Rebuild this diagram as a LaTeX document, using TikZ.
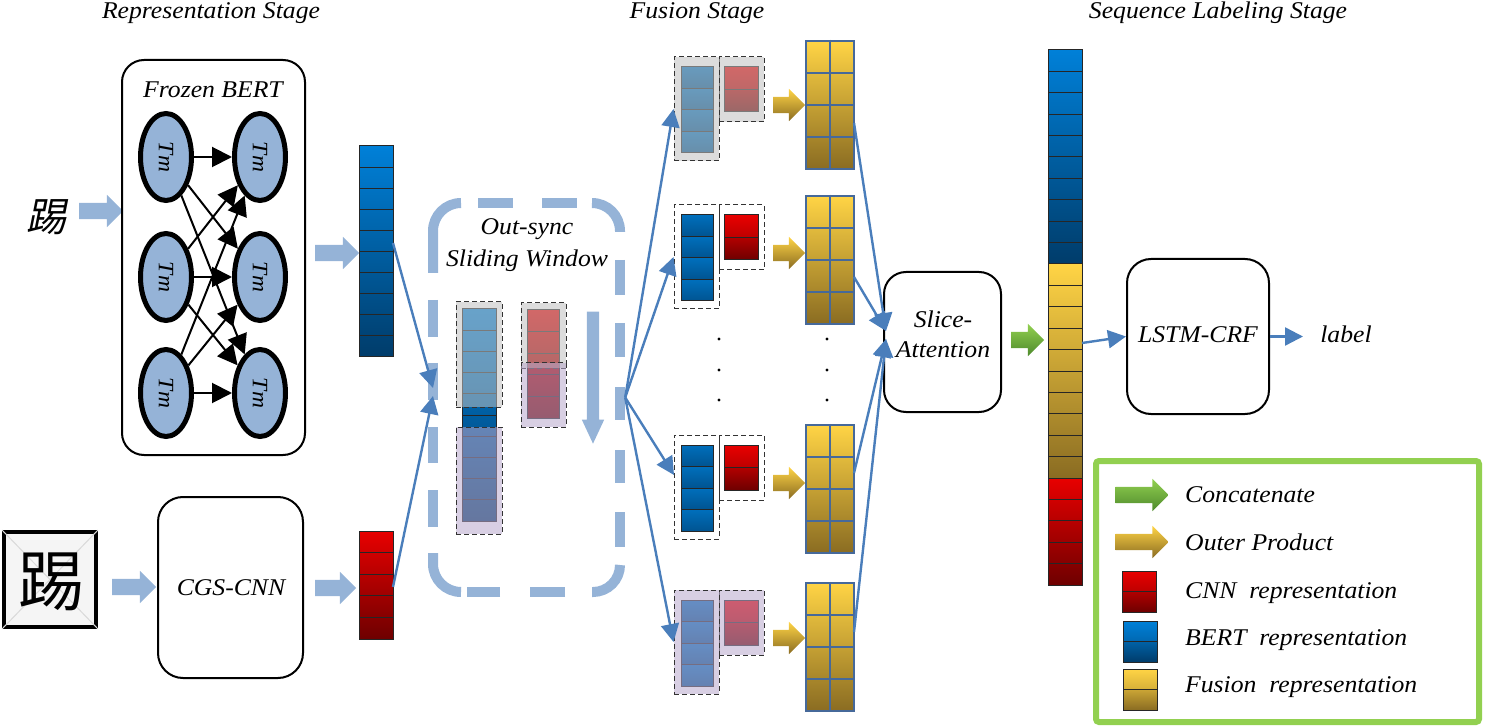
\documentclass[tikz,border=0pt]{standalone}
\usepackage{fontspec}
\usepackage{graphicx}
\setmainfont{Liberation Serif}[FakeStretch=1.07]
\newfontfamily\cjkslant{Noto Sans CJK SC}[FakeSlant=0.2]
\newfontfamily\cjkplain{Noto Sans CJK SC}
\usetikzlibrary{shapes.geometric,shapes.arrows,arrows.meta}
\definecolor{lb}{HTML}{95B3D7}
\definecolor{cb}{HTML}{4A7EBB}
\definecolor{bertA}{HTML}{0080D8}
\definecolor{bertB}{HTML}{003C6A}
\definecolor{redA}{HTML}{E80000}
\definecolor{redB}{HTML}{6E0000}
\definecolor{goldA}{HTML}{FFD445}
\definecolor{goldB}{HTML}{8A6C22}
\definecolor{grnA}{HTML}{92D050}
\definecolor{grnB}{HTML}{4E8A2C}
\definecolor{mgrid}{HTML}{46699A}
\definecolor{grayov}{HTML}{BFBFBF}
\definecolor{lavov}{HTML}{B8A8CC}
\definecolor{legcol}{HTML}{92D050}
\tikzset{
  sarr/.style={single arrow, draw=none, minimum height=#1, single arrow head extend=8pt, inner xsep=0pt, inner ysep=8pt, outer sep=0pt},
  lbarrow/.style={sarr=#1, fill=lb},
  gdarrow/.style={sarr=#1, top color=goldA, bottom color=goldB},
  grarrow/.style={sarr=#1, top color=grnA, bottom color=grnB},
  conn/.style={draw=cb, line width=2.4pt, -{Triangle[length=18pt,width=18pt]}},
  bconn/.style={draw=black, line width=2pt, -{Triangle[length=20pt,width=20pt]}},
  tm/.style={ellipse, draw=black, line width=5pt, fill=lb, minimum width=51pt, minimum height=87pt, inner sep=0pt},
  rbox/.style={draw=black, line width=2pt, rounded corners=#1, inner sep=0pt},
  cell/.style={draw=black!85, line width=1pt},
  dbox/.style={draw=black!80, line width=1pt, dash pattern=on 5pt off 3pt, inner sep=0pt},
  winline/.style={draw=lb, line width=10pt, line cap=butt},
  mat/.style={draw=mgrid, line width=2.5pt, top color=goldA, bottom color=goldB, minimum width=48pt, minimum height=128pt, inner sep=0pt},
  txt/.style={inner sep=0pt, anchor=base},
}
\begin{document}
\begin{tikzpicture}[x=1pt,y=-1pt,font=\fontsize{24}{30}\selectfont\itshape]
\useasboundingbox (0,0) rectangle (1489,727);

% stage titles
\node[txt] (t1) at (211,19) {Representation Stage};
\node[txt] (t2) at (697,19) {Fusion Stage};
\node[txt] (t3) at (1218,19) {Sequence Labeling Stage};

% input character and image
\node[inner sep=0pt] (ch) at (47,217) {\cjkslant\fontsize{40}{40}\selectfont 踢};
\node[lbarrow=44pt] (a1) at (97,211) {};
\node[draw=black, line width=4pt, fill=black!4, minimum width=92pt, minimum height=95pt, inner sep=0pt] (img) at (50,579.5) {};
\draw[black!15, line width=1pt] (img.north west) -- (img.south east) (img.north east) -- (img.south west);
\node[inner sep=0pt] (ch2) at (51,582) {\cjkplain\fontsize{66}{66}\selectfont 踢};
\node[lbarrow=44pt] (a3) at (130,587) {};

% Frozen BERT
\node[rbox=22pt, minimum width=183pt, minimum height=395pt] (bert) at (213.5,257.5) {};
\node[txt] (bertt) at (213,98) {Frozen BERT};
\foreach \r/\y in {1/157,2/277,3/393}{
  \node[tm] (L\r) at (166,\y) {\rotatebox{-90}{\fontsize{22}{22}\selectfont Tm}};
  \node[tm] (R\r) at (260,\y) {\rotatebox{-90}{\fontsize{22}{22}\selectfont Tm}};
}
\foreach \i in {1,2,3}{\foreach \j in {1,2,3}{\draw[bconn] (L\i) -- (R\j);}}
\node[lbarrow=44pt] (a2) at (333,253) {};

% CGS-CNN
\node[rbox=25pt, minimum width=145pt, minimum height=181pt] (cgs) at (230.5,587.5) {};
\node[txt] (cgst) at (231,595) {CGS-CNN};
\node[lbarrow=41pt] (a4) at (331.5,588) {};

% BERT bar
\foreach \k in {0,...,9}{
  \pgfmathtruncatemacro\pa{100-\k*10}
  \pgfmathtruncatemacro\pb{100-(\k+1)*10}
  \draw[cell, top color=bertA!\pa!bertB, bottom color=bertA!\pb!bertB] (359,{146+\k*21.1}) rectangle ++(34,21.1);
}
% red bar
\foreach \k in {0,...,4}{
  \pgfmathtruncatemacro\pa{100-\k*20}
  \pgfmathtruncatemacro\pb{100-(\k+1)*20}
  \draw[cell, top color=redA!\pa!redB, bottom color=redA!\pb!redB] (359,{531+\k*21.6}) rectangle ++(34,21.6);
}
\coordinate (bout) at (393,243);
\coordinate (rout) at (393,587);

% sliding window
\node[minimum width=197pt, minimum height=399pt, inner sep=0pt] (win) at (526.5,397.5) {};
\draw[winline, rounded corners=28pt] (433,273) -- (433,203) -- (461,203);
\draw[winline] (478,203) -- (513,203) (542,203) -- (577,203);
\draw[winline, rounded corners=28pt] (592,203) -- (620,203) -- (620,232);
\draw[winline] (620,260) -- (620,295) (620,323) -- (620,357) (620,387) -- (620,420) (620,450) -- (620,483) (620,512) -- (620,547);
\draw[winline, rounded corners=27pt] (620,565) -- (620,592) -- (592,592);
\draw[winline] (565,592) -- (530,592) (500,592) -- (467,592);
\draw[winline, rounded corners=28pt] (461,592) -- (433,592) -- (433,553);
\draw[winline] (433,300) -- (433,337) (433,363) -- (433,400) (433,427) -- (433,463) (433,490) -- (433,527);
\node[txt] (wt1) at (527,235) {Out-sync};
\node[txt] (wt2) at (527,267) {Sliding Window};
\foreach \k in {0,...,9}{
  \pgfmathtruncatemacro\pa{100-\k*10}
  \pgfmathtruncatemacro\pb{100-(\k+1)*10}
  \draw[cell, top color=bertA!\pa!bertB, bottom color=bertA!\pb!bertB] (462,{309+\k*21.2}) rectangle ++(34,21.2);
}
\foreach \k in {0,...,4}{
  \pgfmathtruncatemacro\pa{100-\k*20}
  \pgfmathtruncatemacro\pb{100-(\k+1)*20}
  \draw[cell, top color=redA!\pa!redB, bottom color=redA!\pb!redB] (527,{310+\k*21.6}) rectangle ++(32,21.6);
}
\node[dbox, fill=grayov, fill opacity=0.55, minimum width=46pt, minimum height=105pt] (sw1) at (479,354.5) {};
\node[dbox, fill=lavov, fill opacity=0.55, minimum width=46pt, minimum height=107pt] (sw2) at (479,480.5) {};
\node[dbox, fill=grayov, fill opacity=0.55, minimum width=45pt, minimum height=65pt] (sw3) at (543.5,335.5) {};
\node[dbox, fill=lavov, fill opacity=0.55, minimum width=45pt, minimum height=64pt] (sw4) at (543.5,395) {};
\node[single arrow, fill=lb, draw=none, shape border rotate=270, minimum height=132pt, single arrow head extend=5pt, single arrow tip angle=50, inner sep=6pt] (down) at (593,371) {};

\coordinate (win1) at (433,388);
\coordinate (win2) at (433,396);
\draw[conn] (bout) -- (win1);
\draw[conn] (rout) -- (win2);

% fusion groups
\foreach \g/\T/\MT/\ov/\op in {1/57/41/grayov/0.55, 2/205/196/white/0, 3/435/425/white/0, 4/590/583/lavov/0.55}{
  \foreach \k in {0,...,3}{
    \draw[cell, top color=bertA!75!bertB, bottom color=bertA!35!bertB] (681,{\T+10+\k*21.5}) rectangle ++(32,21.5);
  }
  \draw[cell, top color=redA, bottom color=redA!65!redB] (724,{\T+10}) rectangle ++(34,22.5);
  \draw[cell, top color=redA!55!redB, bottom color=redB] (724,{\T+32.5}) rectangle ++(34,22.5);
  \node[dbox, fill=\ov, fill opacity=\op, minimum width=45pt, minimum height=104pt] (b\g) at (696.5,{\T+52}) {};
  \node[dbox, fill=\ov, fill opacity=\op, minimum width=45pt, minimum height=65pt] (r\g) at (741.5,{\T+32.5}) {};
  \node[gdarrow=32pt] (ga\g) at (785,{\T+48}) {};
  \node[mat] (m\g) at (830,{\MT+64}) {};
  \draw[draw=mgrid, line width=2.5pt] (m\g.north) -- (m\g.south);
  \foreach \r in {1,2,3}{\draw[draw=mgrid, line width=2.5pt] (806,{\MT+\r*32}) -- (854,{\MT+\r*32});}
}
\foreach \y in {339,370,400}{\fill (719,\y) circle (1.6pt); \fill (827,\y) circle (1.6pt);}

\coordinate (f3) at (674,475);
\draw[conn] (win.east) -- (b1.west);
\draw[conn] (win.east) -- (b2.west);
\draw[conn] (win.east) -- (f3);
\draw[conn] (win.east) -- (b4.west);

% slice attention
\node[rbox=22pt, minimum width=117pt, minimum height=140pt] (slice) at (942.5,342) {};
\node[txt] (st1) at (943,327) {Slice-};
\node[txt] (st2) at (943,357) {Attention};
\coordinate (mo1) at (854,123);
\coordinate (mo2) at (854,277);
\coordinate (mo3) at (854,473);
\coordinate (mo4) at (854,632);
\coordinate (si1) at (886,331);
\coordinate (si2) at (886,339);
\draw[conn] (mo1) -- (si1);
\draw[conn] (mo2) -- (si1);
\draw[conn] (mo3) -- (si2);
\draw[conn] (mo4) -- (si2);
\node[grarrow=33pt] (gr) at (1023.5,340) {};

% tall bar
\foreach \k in {0,...,9}{
  \pgfmathtruncatemacro\pa{100-\k*10}
  \pgfmathtruncatemacro\pb{100-(\k+1)*10}
  \draw[cell, top color=bertA!\pa!bertB, bottom color=bertA!\pb!bertB] (1048,{50+\k*21.4}) rectangle ++(34,21.4);
}
\foreach \k in {0,...,9}{
  \pgfmathtruncatemacro\pa{100-\k*10}
  \pgfmathtruncatemacro\pb{100-(\k+1)*10}
  \draw[cell, top color=goldA!\pa!goldB, bottom color=goldA!\pb!goldB] (1048,{264+\k*21.4}) rectangle ++(34,21.4);
}
\foreach \k in {0,...,4}{
  \pgfmathtruncatemacro\pa{100-\k*20}
  \pgfmathtruncatemacro\pb{100-(\k+1)*20}
  \draw[cell, top color=redA!\pa!redB, bottom color=redA!\pb!redB] (1048,{478+\k*21.4}) rectangle ++(34,21.4);
}
\coordinate (tout) at (1082,343);

% LSTM-CRF
\node[rbox=24pt, minimum width=142pt, minimum height=155pt] (lstm) at (1198,336.5) {};
\node[txt] (lt) at (1198,343) {LSTM-CRF};
\draw[conn] (tout) -- (lstm.west);
\node[txt] (lbl) at (1346,343) {label};
\coordinate (lbltip) at (1303,336.5);
\draw[conn] (lstm.east) -- (lbltip);

% legend
\node[draw=legcol, line width=6pt, rounded corners=3pt, minimum width=383pt, minimum height=261pt, inner sep=0pt] (leg) at (1287.5,591.5) {};
\node[grarrow=53pt] (lg1) at (1138,495) {};
\node[gdarrow=53pt] (lg2) at (1138,542) {};
\draw[cell, top color=redA, bottom color=redA!65!redB] (1122,571) rectangle (1156,591.5);
\draw[cell, top color=redA!55!redB, bottom color=redB] (1122,591.5) rectangle (1156,612);
\draw[cell, top color=bertA, bottom color=bertA!65!bertB] (1123,621) rectangle (1157,641.5);
\draw[cell, top color=bertA!55!bertB, bottom color=bertB] (1123,641.5) rectangle (1157,662);
\draw[cell, top color=goldA, bottom color=goldA!65!goldB] (1123,669) rectangle (1157,689.5);
\draw[cell, top color=goldA!55!goldB, bottom color=goldB] (1123,689.5) rectangle (1157,710);
\node[txt, anchor=base west] (lt1) at (1185,502) {Concatenate};
\node[txt, anchor=base west] (lt2) at (1185,550) {Outer Product};
\node[txt, anchor=base west] (lt3) at (1185,598) {CNN\ \ representation};
\node[txt, anchor=base west] (lt4) at (1185,645) {BERT\ \ representation};
\node[txt, anchor=base west] (lt5) at (1185,692) {Fusion\ \ representation};
\end{tikzpicture}
\end{document}
